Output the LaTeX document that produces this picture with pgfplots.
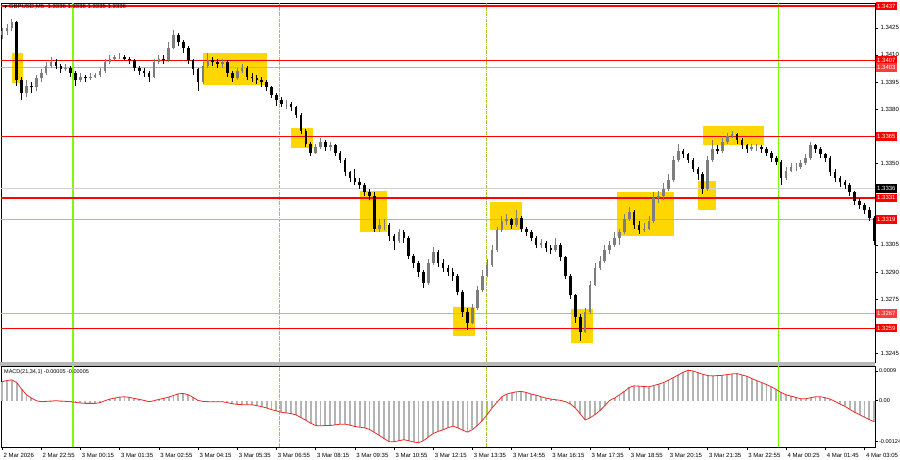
\documentclass[border=0pt]{standalone}
\usepackage{fontspec}
\setmainfont{Liberation Sans}
\newfontfamily\symfont{DejaVu Sans}
\usepackage{pgfplots}
\usepackage{pgfplotstable}
\pgfplotsset{compat=1.18}

\definecolor{lvl}{RGB}{255,0,0}
\definecolor{lvlpale}{RGB}{255,150,150}
\definecolor{lblpale}{RGB}{255,60,60}
\definecolor{zone}{RGB}{255,215,0}
\definecolor{daygreen}{RGB}{124,252,0}
\definecolor{sepgreen}{RGB}{154,205,50}
\definecolor{bullgray}{RGB}{125,125,125}
\definecolor{histgray}{RGB}{180,180,180}
\definecolor{macdred}{RGB}{240,40,40}

% GBPUSD M5, one row per two bars: open close high low macd
\pgfplotstableread{
o c h l m
1.3421 1.3423 1.3425 1.3419 0.00057
1.3423 1.3425 1.3427 1.3421 0.00061
1.3425 1.3428 1.3430 1.3423 0.00063
1.3428 1.3396 1.3429 1.3393 0.00055
1.3396 1.3389 1.3398 1.3385 0.00035
1.3389 1.3393 1.3396 1.3387 0.00018
1.3393 1.3392 1.3395 1.3389 0.00008
1.3392 1.3397 1.3399 1.3390 0.00000
1.3397 1.3400 1.3402 1.3395 -0.00003
1.3400 1.3404 1.3406 1.3399 -0.00002
1.3404 1.3406 1.3409 1.3403 -0.00001
1.3406 1.3404 1.3408 1.3402 0.00000
1.3404 1.3402 1.3405 1.3400 -0.00001
1.3402 1.3403 1.3405 1.3401 -0.00002
1.3403 1.3400 1.3404 1.3398 -0.00003
1.3400 1.3396 1.3401 1.3393 -0.00005
1.3396 1.3398 1.3400 1.3395 -0.00007
1.3398 1.3397 1.3399 1.3395 -0.00008
1.3397 1.3398 1.3400 1.3396 -0.00008
1.3398 1.3399 1.3400 1.3397 -0.00008
1.3399 1.3401 1.3403 1.3398 -0.00006
1.3401 1.3406 1.3408 1.3400 0.00000
1.3406 1.3408 1.3410 1.3405 0.00005
1.3408 1.3409 1.3410 1.3407 0.00008
1.3409 1.3409 1.3411 1.3408 0.00011
1.3409 1.3408 1.3410 1.3407 0.00012
1.3408 1.3407 1.3409 1.3405 0.00010
1.3407 1.3403 1.3408 1.3401 0.00007
1.3403 1.3401 1.3404 1.3399 0.00004
1.3401 1.3400 1.3403 1.3398 0.00001
1.3400 1.3398 1.3401 1.3395 -0.00003
1.3398 1.3406 1.3408 1.3397 0.00000
1.3406 1.3408 1.3410 1.3405 0.00004
1.3408 1.3407 1.3410 1.3405 0.00007
1.3407 1.3414 1.3417 1.3406 0.00011
1.3414 1.3421 1.3424 1.3413 0.00016
1.3421 1.3417 1.3422 1.3415 0.00021
1.3417 1.3414 1.3418 1.3411 0.00022
1.3414 1.3407 1.3415 1.3405 0.00018
1.3407 1.3402 1.3408 1.3399 0.00010
1.3402 1.3395 1.3403 1.3390 0.00001
1.3395 1.3404 1.3406 1.3394 -0.00002
1.3404 1.3407 1.3411 1.3403 -0.00003
1.3407 1.3406 1.3409 1.3404 -0.00003
1.3406 1.3405 1.3408 1.3403 -0.00003
1.3405 1.3406 1.3408 1.3403 -0.00003
1.3406 1.3400 1.3407 1.3398 -0.00006
1.3400 1.3397 1.3401 1.3395 -0.00009
1.3397 1.3401 1.3403 1.3396 -0.00011
1.3401 1.3403 1.3405 1.3400 -0.00012
1.3403 1.3398 1.3404 1.3396 -0.00012
1.3398 1.3397 1.3400 1.3395 -0.00012
1.3397 1.3396 1.3399 1.3394 -0.00015
1.3396 1.3395 1.3398 1.3392 -0.00018
1.3395 1.3392 1.3396 1.3390 -0.00022
1.3392 1.3388 1.3393 1.3386 -0.00027
1.3388 1.3385 1.3389 1.3382 -0.00031
1.3385 1.3383 1.3387 1.3381 -0.00035
1.3383 1.3383 1.3385 1.3380 -0.00037
1.3383 1.3381 1.3384 1.3379 -0.00039
1.3381 1.3377 1.3382 1.3375 -0.00043
1.3377 1.3368 1.3378 1.3366 -0.00051
1.3368 1.3361 1.3369 1.3359 -0.00059
1.3361 1.3356 1.3362 1.3354 -0.00068
1.3356 1.3359 1.3361 1.3355 -0.00075
1.3359 1.3362 1.3364 1.3358 -0.00076
1.3362 1.3359 1.3363 1.3357 -0.00075
1.3359 1.3360 1.3362 1.3357 -0.00075
1.3360 1.3356 1.3361 1.3354 -0.00073
1.3356 1.3352 1.3357 1.3350 -0.00071
1.3352 1.3345 1.3353 1.3343 -0.00071
1.3345 1.3342 1.3346 1.3340 -0.00074
1.3342 1.3340 1.3347 1.3338 -0.00078
1.3340 1.3338 1.3342 1.3336 -0.00080
1.3338 1.3334 1.3339 1.3332 -0.00082
1.3334 1.3332 1.3336 1.3330 -0.00087
1.3332 1.3314 1.3334 1.3312 -0.00096
1.3314 1.3316 1.3319 1.3312 -0.00105
1.3316 1.3316 1.3319 1.3313 -0.00115
1.3316 1.3310 1.3317 1.3307 -0.00124
1.3310 1.3307 1.3311 1.3302 -0.00124
1.3307 1.3312 1.3314 1.3306 -0.00121
1.3312 1.3309 1.3313 1.3306 -0.00118
1.3309 1.3299 1.3310 1.3297 -0.00121
1.3299 1.3295 1.3300 1.3292 -0.00125
1.3295 1.3290 1.3296 1.3287 -0.00127
1.3290 1.3284 1.3291 1.3281 -0.00121
1.3284 1.3295 1.3297 1.3283 -0.00110
1.3295 1.3301 1.3304 1.3294 -0.00099
1.3301 1.3295 1.3302 1.3293 -0.00093
1.3295 1.3292 1.3297 1.3290 -0.00088
1.3292 1.3290 1.3294 1.3288 -0.00082
1.3290 1.3288 1.3292 1.3285 -0.00077
1.3288 1.3279 1.3289 1.3277 -0.00082
1.3279 1.3268 1.3280 1.3265 -0.00089
1.3268 1.3262 1.3270 1.3258 -0.00095
1.3262 1.3270 1.3272 1.3261 -0.00087
1.3270 1.3280 1.3282 1.3269 -0.00075
1.3280 1.3288 1.3291 1.3279 -0.00060
1.3288 1.3294 1.3297 1.3287 -0.00042
1.3294 1.3302 1.3305 1.3293 -0.00022
1.3302 1.3313 1.3315 1.3301 -0.00005
1.3313 1.3318 1.3321 1.3312 0.00012
1.3318 1.3319 1.3322 1.3316 0.00020
1.3319 1.3316 1.3320 1.3314 0.00024
1.3316 1.3320 1.3324 1.3315 0.00027
1.3320 1.3314 1.3321 1.3312 0.00028
1.3314 1.3312 1.3315 1.3310 0.00025
1.3312 1.3309 1.3313 1.3307 0.00020
1.3309 1.3305 1.3310 1.3303 0.00017
1.3305 1.3306 1.3308 1.3303 0.00012
1.3306 1.3303 1.3307 1.3301 0.00008
1.3303 1.3302 1.3305 1.3300 0.00005
1.3302 1.3305 1.3309 1.3301 0.00003
1.3305 1.3298 1.3306 1.3296 0.00001
1.3298 1.3288 1.3299 1.3286 -0.00003
1.3288 1.3277 1.3289 1.3275 -0.00010
1.3277 1.3265 1.3278 1.3262 -0.00022
1.3265 1.3257 1.3267 1.3252 -0.00040
1.3257 1.3268 1.3270 1.3256 -0.00058
1.3268 1.3283 1.3285 1.3267 -0.00052
1.3283 1.3292 1.3295 1.3282 -0.00042
1.3292 1.3296 1.3299 1.3291 -0.00030
1.3296 1.3302 1.3305 1.3295 -0.00015
1.3302 1.3305 1.3307 1.3300 0.00001
1.3305 1.3309 1.3312 1.3304 0.00008
1.3309 1.3312 1.3314 1.3305 0.00018
1.3312 1.3319 1.3322 1.3311 0.00028
1.3319 1.3323 1.3326 1.3318 0.00040
1.3323 1.3316 1.3324 1.3314 0.00045
1.3316 1.3313 1.3318 1.3311 0.00044
1.3313 1.3314 1.3317 1.3312 0.00043
1.3314 1.3318 1.3321 1.3313 0.00042
1.3318 1.3331 1.3334 1.3317 0.00046
1.3331 1.3332 1.3335 1.3328 0.00050
1.3332 1.3336 1.3339 1.3330 0.00055
1.3336 1.3341 1.3344 1.3335 0.00062
1.3341 1.3352 1.3354 1.3340 0.00070
1.3352 1.3357 1.3361 1.3351 0.00078
1.3357 1.3355 1.3358 1.3353 0.00086
1.3355 1.3352 1.3356 1.3350 0.00092
1.3352 1.3347 1.3353 1.3345 0.00090
1.3347 1.3344 1.3348 1.3341 0.00085
1.3344 1.3336 1.3345 1.3333 0.00080
1.3336 1.3352 1.3354 1.3335 0.00076
1.3352 1.3358 1.3363 1.3351 0.00075
1.3358 1.3357 1.3360 1.3355 0.00076
1.3357 1.3362 1.3364 1.3356 0.00077
1.3362 1.3365 1.3367 1.3361 0.00079
1.3365 1.3366 1.3368 1.3364 0.00081
1.3366 1.3363 1.3367 1.3361 0.00082
1.3363 1.3360 1.3364 1.3358 0.00078
1.3360 1.3358 1.3361 1.3356 0.00074
1.3358 1.3359 1.3361 1.3357 0.00067
1.3359 1.3359 1.3361 1.3357 0.00061
1.3359 1.3358 1.3360 1.3356 0.00055
1.3358 1.3356 1.3359 1.3354 0.00049
1.3356 1.3353 1.3357 1.3351 0.00042
1.3353 1.3351 1.3354 1.3349 0.00034
1.3351 1.3342 1.3352 1.3338 0.00025
1.3342 1.3346 1.3348 1.3341 0.00018
1.3346 1.3348 1.3350 1.3345 0.00014
1.3348 1.3348 1.3350 1.3346 0.00010
1.3348 1.3350 1.3352 1.3347 0.00006
1.3350 1.3353 1.3355 1.3349 0.00006
1.3353 1.3360 1.3362 1.3352 0.00009
1.3360 1.3358 1.3361 1.3356 0.00012
1.3358 1.3355 1.3359 1.3353 0.00012
1.3355 1.3353 1.3356 1.3351 0.00009
1.3353 1.3345 1.3354 1.3343 0.00005
1.3345 1.3342 1.3347 1.3340 -0.00002
1.3342 1.3340 1.3343 1.3337 -0.00010
1.3340 1.3338 1.3341 1.3336 -0.00017
1.3338 1.3334 1.3339 1.3332 -0.00026
1.3334 1.3329 1.3335 1.3327 -0.00035
1.3329 1.3327 1.3331 1.3325 -0.00042
1.3327 1.3324 1.3328 1.3322 -0.00050
1.3324 1.3320 1.3326 1.3318 -0.00057
1.3320 1.3307 1.3321 1.3305 -0.00064
}\bars

\pgfplotsset{
  candle/.style n args={3}{draw=none, mark=none, forget plot,
    unbounded coords=discard, filter discard warning=false,
    restrict expr to domain={\thisrow{c}-\thisrow{o}}{#1},
    error bars/.cd, y dir=plus, y explicit, error mark=none,
    error bar style={line width=#3, draw=#2}},
  chart/.style={scale only axis, width=874pt, xmin=-0.41, xmax=356.3,
    clip=false, axis line style={black, line width=0.6pt},
    tick align=outside, major tick length=3pt,
    tick style={black, line width=0.5pt},
    ytick pos=right, yticklabel pos=right,
    ticklabel style={font=\fontsize{6}{7}\selectfont, black},
    yticklabel style={xshift=-1pt}, scaled y ticks=false}
}
\tikzset{
  lab/.style={anchor=west, fill=lvl, text=white, xshift=0.6pt,
    font=\fontsize{6}{7}\selectfont, inner xsep=1.4pt, inner ysep=1.1pt,
    minimum height=8.5pt}
}

\begin{document}
\begin{tikzpicture}
\useasboundingbox (0pt,0pt) rectangle (900pt,-460pt);

\begin{axis}[chart, name=main, at={(1pt,-3pt)}, anchor=north west,
  height=359pt, ymin=1.32402, ymax=1.34387, xtick=\empty,
  ytick={1.3245,1.3275,1.3290,1.3305,1.3350,1.3380,1.3395,1.3410,1.3425,1.3440},
  yticklabels={1.3245,1.3275,1.3290,1.3305,1.3350,1.3380,1.3395,1.3410,1.3425,1.3440}]

% zones
\addplot[fill=zone, draw=none] coordinates {(4.1,1.34110) (8.6,1.34110) (8.6,1.33944) (4.1,1.33944)};
\addplot[fill=zone, draw=none] coordinates {(82,1.34110) (108.2,1.34110) (108.2,1.33933) (82,1.33933)};
\addplot[fill=zone, draw=none] coordinates {(118,1.33696) (127,1.33696) (127,1.33585) (118,1.33585)};
\addplot[fill=zone, draw=none] coordinates {(146.1,1.33347) (157.1,1.33347) (157.1,1.33121) (146.1,1.33121)};
\addplot[fill=zone, draw=none] coordinates {(184,1.32706) (193,1.32706) (193,1.32546) (184,1.32546)};
\addplot[fill=zone, draw=none] coordinates {(199.2,1.33287) (212.2,1.33287) (212.2,1.33132) (199.2,1.33132)};
\addplot[fill=zone, draw=none] coordinates {(232.2,1.32695) (241.2,1.32695) (241.2,1.32507) (232.2,1.32507)};
\addplot[fill=zone, draw=none] coordinates {(251,1.33342) (274.3,1.33342) (274.3,1.33099) (251,1.33099)};
\addplot[fill=zone, draw=none] coordinates {(284,1.33403) (291.4,1.33403) (291.4,1.33242) (284,1.33242)};
\addplot[fill=zone, draw=none] coordinates {(286,1.33707) (311,1.33707) (311,1.33602) (286,1.33602)};

% day separators and session lines
\addplot[sepgreen, densely dash dot, line width=0.5pt] coordinates {(113,1.32402) (113,1.34387)};
\addplot[sepgreen, densely dash dot, line width=0.5pt] coordinates {(197.5,1.32402) (197.5,1.34387)};
\addplot[daygreen, line width=1.4pt] coordinates {(29,1.32402) (29,1.34387)};
\addplot[daygreen, line width=1.4pt] coordinates {(317,1.32402) (317,1.34387)};

% levels
\addplot[gray!35, line width=0.8pt] coordinates {(-0.41,1.3336) (356.3,1.3336)};
\addplot[lvl, line width=1.5pt] coordinates {(-0.41,1.3437) (356.3,1.3437)};
\addplot[lvl, line width=0.8pt] coordinates {(-0.41,1.3407) (356.3,1.3407)};
\addplot[lvlpale, line width=1.6pt] coordinates {(-0.41,1.3403) (356.3,1.3403)};
\addplot[lvl, line width=0.8pt] coordinates {(-0.41,1.3365) (356.3,1.3365)};
\addplot[lvl, line width=1.5pt] coordinates {(-0.41,1.3331) (356.3,1.3331)};
\addplot[lvlpale, line width=1.6pt] coordinates {(-0.41,1.3319) (356.3,1.3319)};
\addplot[lvlpale, line width=1.6pt] coordinates {(-0.41,1.3267) (356.3,1.3267)};
\addplot[lvl, line width=0.8pt] coordinates {(-0.41,1.3259) (356.3,1.3259)};

% candles
\addplot[candle={0:1}{bullgray}{0.7pt}] table[x expr=2*\coordindex, y=l, y error plus expr=\thisrow{h}-\thisrow{l}]{\bars};
\addplot[candle={0:1}{bullgray}{2.6pt}] table[x expr=2*\coordindex, y=o, y error plus expr=\thisrow{c}-\thisrow{o}]{\bars};
\addplot[candle={-1:-0.00001}{black}{0.7pt}] table[x expr=2*\coordindex, y=l, y error plus expr=\thisrow{h}-\thisrow{l}]{\bars};
\addplot[candle={-1:-0.00001}{black}{2.6pt}] table[x expr=2*\coordindex, y=c, y error plus expr=\thisrow{o}-\thisrow{c}]{\bars};

\coordinate (a) at (axis cs:356.3,1.3437);
\coordinate (b) at (axis cs:356.3,1.3407);
\coordinate (bb) at (axis cs:356.3,1.3403);
\coordinate (d) at (axis cs:356.3,1.3365);
\coordinate (e) at (axis cs:356.3,1.3336);
\coordinate (f) at (axis cs:356.3,1.3331);
\coordinate (g) at (axis cs:356.3,1.3319);
\coordinate (h) at (axis cs:356.3,1.3267);
\coordinate (i) at (axis cs:356.3,1.3259);
\end{axis}

\node[lab] at (a) {1.3437};
\node[lab] at (b) {1.3407};
\node[lab, fill=lblpale] at (bb) {1.3403};
\node[lab] at (d) {1.3365};
\node[lab, fill=black] at (e) {1.3336};
\node[lab] at (f) {1.3331};
\node[lab] at (g) {1.3319};
\node[lab, fill=lblpale] at (h) {1.3267};
\node[lab] at (i) {1.3259};

\node[anchor=west, inner sep=0pt, font=\fontsize{6}{7}\selectfont, text=black]
  at (4pt,-7pt) {{\symfont\fontsize{4}{5}\selectfont ▼} GBPUSD,M5\ \ 1.3336 1.3336 1.3335 1.3336};

% panel separator
\fill[gray!55] (0pt,-362pt) rectangle (875pt,-366pt);

\begin{axis}[chart, name=macd, at={(1pt,-366pt)}, anchor=north west,
  height=81pt, ymin=-0.0014, ymax=0.00105,
  ytick={-0.00124,0,0.0009}, yticklabels={-0.00124,0.00,0.0009},
  yticklabel style={font=\fontsize{5.6}{6.5}\selectfont, xshift=-1.5pt},
  xtick pos=left, xticklabel style={anchor=north west, xshift=-2pt},
  xtick={0,16,...,352},
  xticklabels={2 Mar 2026,2 Mar 22:55,3 Mar 00:15,3 Mar 01:35,3 Mar 02:55,3 Mar 04:15,3 Mar 05:35,3 Mar 06:55,3 Mar 08:15,3 Mar 09:35,3 Mar 10:55,3 Mar 12:15,3 Mar 13:35,3 Mar 14:55,3 Mar 16:15,3 Mar 17:35,3 Mar 18:55,3 Mar 20:15,3 Mar 21:35,3 Mar 22:55,4 Mar 00:25,4 Mar 01:45,4 Mar 03:05}]
\addplot[draw=none, mark=none, error bars/.cd, y dir=plus, y explicit, error mark=none,
  error bar style={draw=histgray, line width=1.9pt}]
  table[x expr=2*\coordindex, y expr={min(0,\thisrow{m})}, y error plus expr={abs(\thisrow{m})}]{\bars};
\addplot[sepgreen, densely dash dot, line width=0.5pt] coordinates {(113,-0.0014) (113,0.00105)};
\addplot[sepgreen, densely dash dot, line width=0.5pt] coordinates {(197.5,-0.0014) (197.5,0.00105)};
\addplot[daygreen, line width=1.4pt] coordinates {(29,-0.0014) (29,0.00105)};
\addplot[daygreen, line width=1.4pt] coordinates {(317,-0.0014) (317,0.00105)};
\addplot[macdred, line width=0.8pt, mark=none] table[x expr=2*\coordindex, y=m]{\bars};
\end{axis}

\node[anchor=west, inner sep=0pt, font=\fontsize{5.5}{6.5}\selectfont, text=black]
  at (4pt,-372pt) {MACD(21,34,1) -0.00005 -0.00005};
\end{tikzpicture}
\end{document}
